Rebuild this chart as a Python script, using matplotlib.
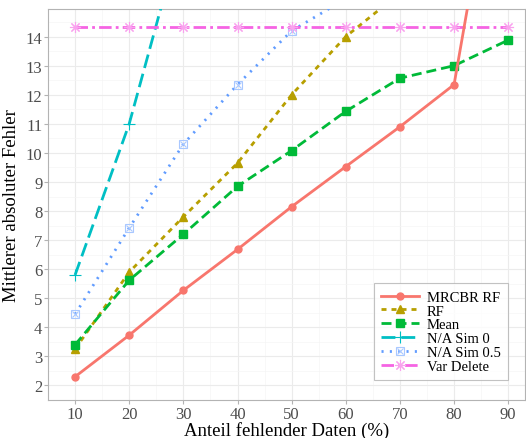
import numpy as np
import matplotlib
matplotlib.use("Agg")
import matplotlib.pyplot as plt

# Daten
anteil = [10, 20, 30, 40, 50, 60, 70, 80, 90]
mrcbr_rf = [2.3, 3.73, 5.27, 6.68, 8.15, 9.53, 10.9, 12.35, 23.0]
rf = [3.25, 5.9, 7.8, 9.65, 12.0, 14.0, 15.5, 17.0, 18.5]
mean = [3.4, 5.62, 7.2, 8.85, 10.08, 11.43, 12.57, 13.0, 13.88]
na_sim0 = [5.8, 11.0, 17.8]
na_sim05 = [4.45, 7.42, 10.3, 12.35, 14.2, 15.3]
var_delete = [14.32] * 9

plt.rcParams["font.family"] = ["Liberation Serif", "DejaVu Serif"]
plt.rcParams["lines.scale_dashes"] = False

fig = plt.figure(figsize=(5.26, 4.39), dpi=100)
ax = fig.add_axes([48/526, 1 - 401/439, 477/526, 391/439])

lw = 2.0
h1, = ax.plot(anteil, mrcbr_rf, color="#F8766D", lw=lw, marker="o", ms=5, zorder=5)
h2, = ax.plot(anteil, rf, color="#B79F00", lw=lw, dashes=(3.6, 3.6), marker="^", ms=6, zorder=4)
h3, = ax.plot(anteil, mean, color="#00BA38", lw=lw, dashes=(7.2, 3.6), marker="s", ms=5.5, zorder=4)
h4, = ax.plot(anteil[:3], na_sim0, color="#00BFC4", lw=lw, dashes=(10, 4.3), marker="+", ms=8, mew=0.8, zorder=3)
h5a, = ax.plot(anteil[:6], na_sim05, color="#619CFF", lw=lw, dashes=(1.5, 4.5), marker="s", ms=5.5,
               mfc="none", mec="#A9C8FF", mew=0.8, zorder=3)
h5b, = ax.plot(anteil[:6], na_sim05, ls="none", marker="x", ms=4, mec="#A9C8FF", mew=0.8, zorder=3)
h6, = ax.plot(anteil, var_delete, color="#F564E3", lw=lw, dashes=(9, 3, 2, 3), marker=(8, 2, 0), ms=8,
              mew=0.8, mec="#F9A3EE", zorder=3)

ax.set_xlim(6, 93.1)
ax.set_ylim(1.72, 14.95)
ax.set_xticks(anteil)
ax.set_yticks(range(2, 15))
ax.set_xticks(np.arange(5, 95, 5), minor=True)
ax.set_yticks(np.arange(1.5, 15, 0.5), minor=True)
ax.tick_params(which="minor", length=0)
ax.tick_params(which="major", length=3, color="#B3B3B3", labelsize=12, labelcolor="#4D4D4D", pad=1)
ax.grid(which="major", color="#EBEBEB", lw=0.8)
ax.grid(which="minor", color="#F5F5F5", lw=0.5)
ax.set_axisbelow(True)
for s in ax.spines.values():
    s.set_color("#B3B3B3")

ax.set_xlabel("Anteil fehlender Daten (%)", fontsize=13.5, labelpad=0)
ax.set_ylabel("Mittlerer absoluter Fehler", fontsize=13.5, labelpad=4)

leg = ax.legend([h1, h2, h3, h4, (h5a, h5b), h6],
                ["MRCBR RF", "RF", "Mean", "N/A Sim 0", "N/A Sim 0.5", "Var Delete"],
                loc="lower right", bbox_to_anchor=(0.964, 0.051), borderaxespad=0, fontsize=10.5,
                handlelength=2.6, frameon=True, fancybox=False, borderpad=0.5, labelspacing=0.04,
                handletextpad=0.5)
leg.get_frame().set_edgecolor("#B3B3B3")
leg.get_frame().set_linewidth(0.8)

fig.savefig("out.png", dpi=100)
